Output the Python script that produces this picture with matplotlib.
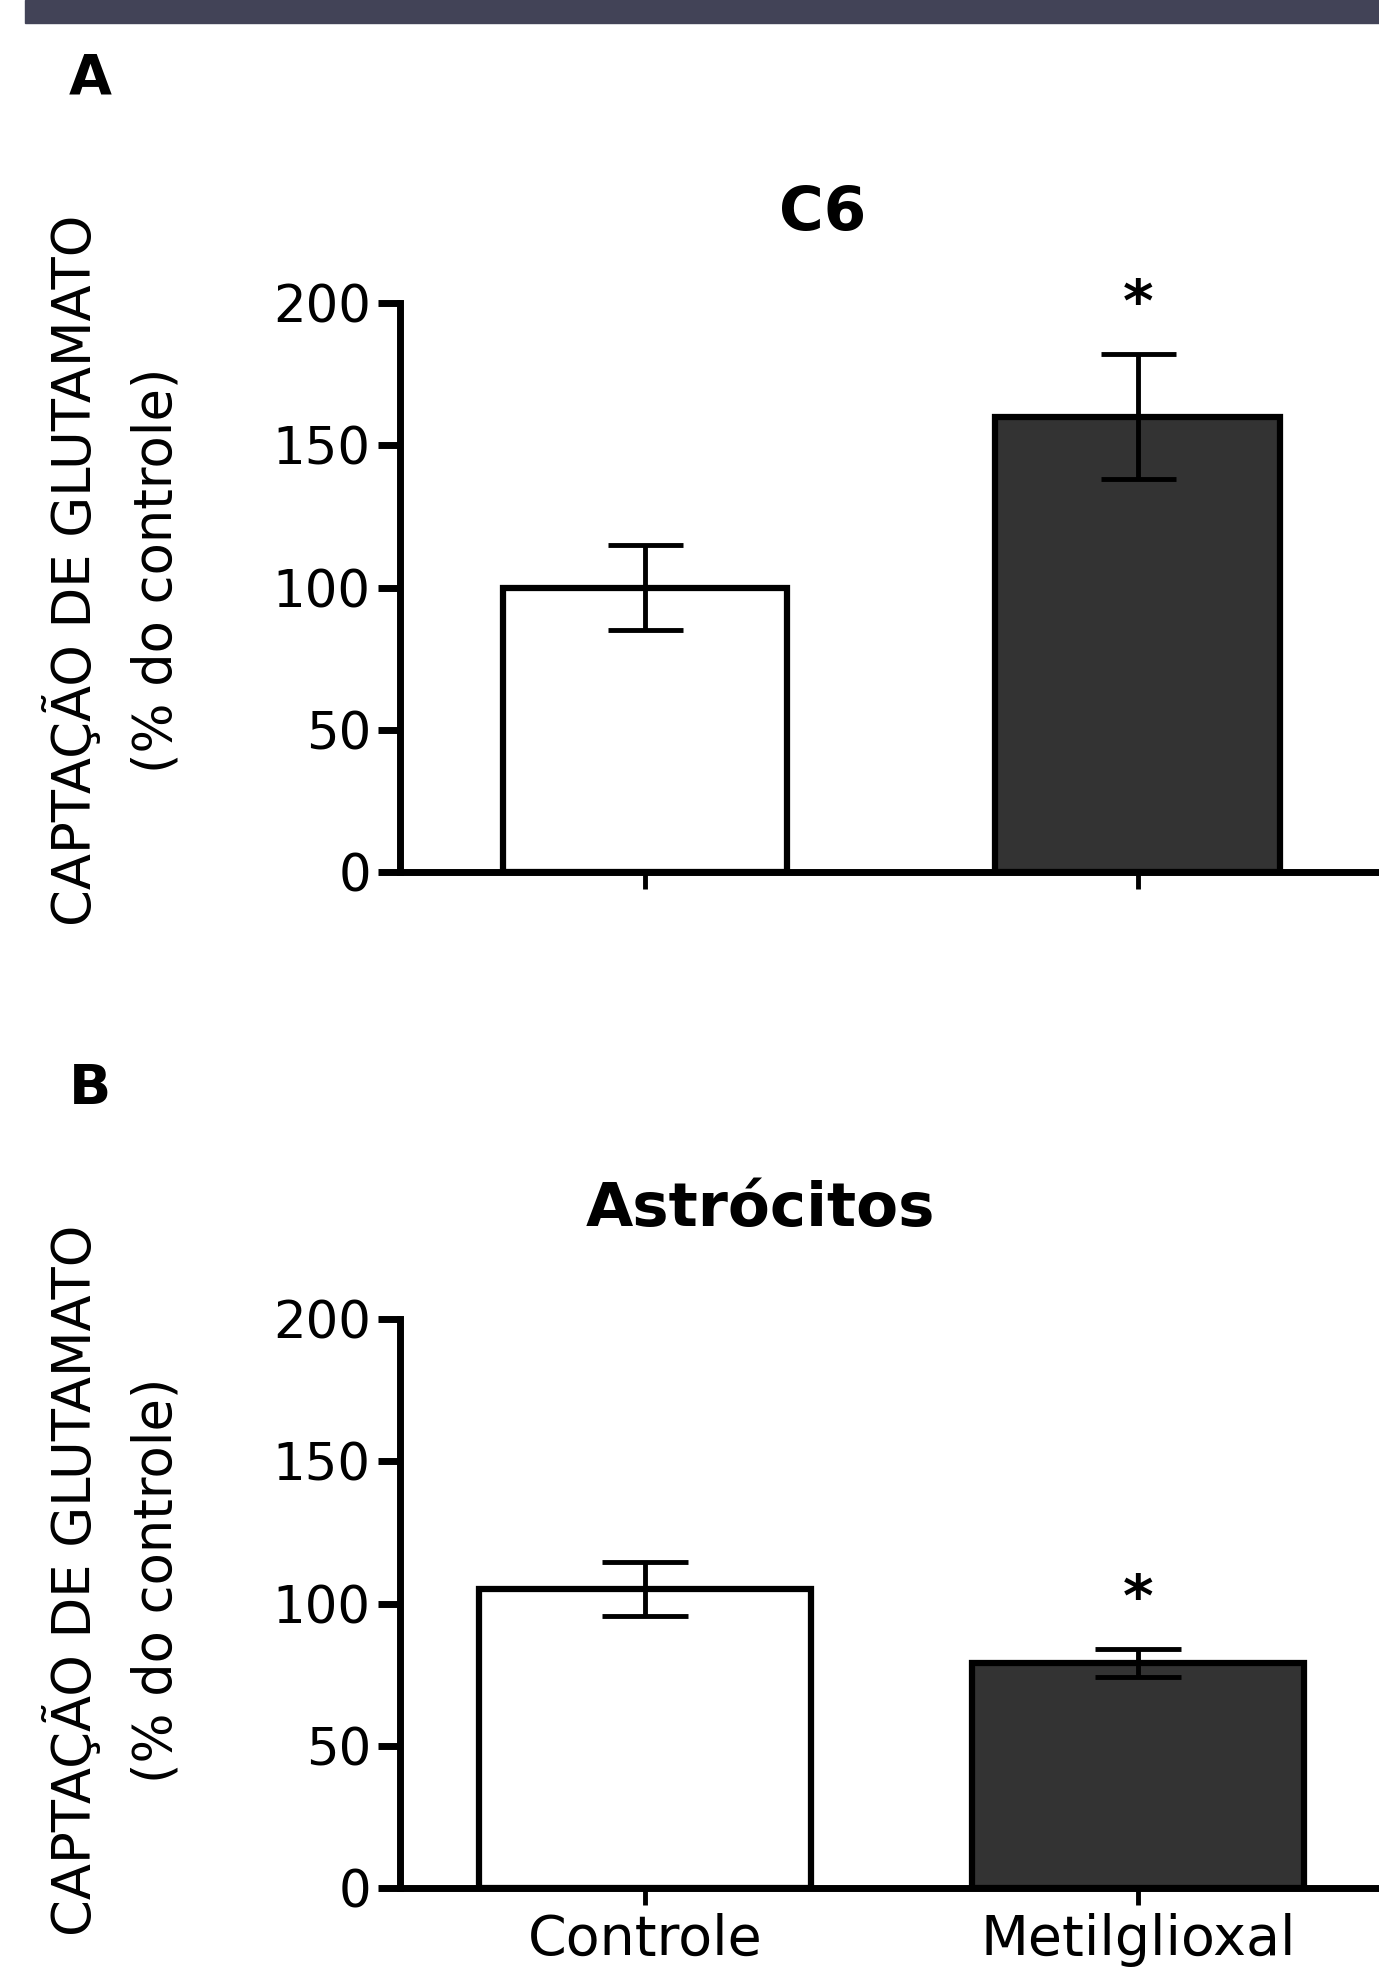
import matplotlib
matplotlib.use("Agg")
import matplotlib.pyplot as plt
from matplotlib.patches import Rectangle
import numpy as np

plt.rcParams['font.family'] = ['DejaVu Sans']

categories = ['Controle', 'Metilglioxal']
c6_mean = [100, 160]
c6_sem = [15, 22]
astro_mean = [105, 79]
astro_sem = [9.5, 5]
signif = [False, True]
bar_colors = ['white', '#333333']
yticks = [0, 50, 100, 150, 200]

W, H = 1379, 1971
fig = plt.figure(figsize=(W / 100, H / 100), dpi=100)

# dark strip at top of the slide
fig.patches.append(Rectangle((25 / W, 1 - 23 / H), 1, 23 / H, transform=fig.transFigure,
                             color='#424357', zorder=0))


def panel(bottom_px, top_px, means, sems, width, capsize, show_labels):
    ax = fig.add_axes([400 / W, 1 - bottom_px / H, 1 - 400 / W, (bottom_px - top_px) / H])
    x = np.arange(len(means))
    ax.bar(x, means, width=width, color=bar_colors, edgecolor='black', linewidth=4.5, zorder=2)
    ax.errorbar(x, means, yerr=sems, fmt='none', ecolor='black', elinewidth=3.5,
                capsize=capsize, capthick=3.5, zorder=3)
    for i, s in enumerate(signif):
        if s:
            ax.annotate('*', xy=(x[i], means[i] + sems[i]), xytext=(0, 24),
                        textcoords='offset points', ha='center', va='baseline',
                        fontsize=42, fontweight='bold', annotation_clip=False)
    ax.set_xlim(-0.497, 1.489)
    ax.set_ylim(0, 200)
    ax.set_yticks(yticks)
    ax.set_xticks(x)
    if show_labels:
        ax.set_xticklabels(categories, fontsize=40)
    else:
        ax.set_xticklabels([])
    ax.tick_params(axis='y', labelsize=37, length=16, width=5, pad=5)
    ax.tick_params(axis='x', length=12, width=3.5, pad=6)
    for sp in ['top', 'right']:
        ax.spines[sp].set_visible(False)
    for sp in ['left', 'bottom']:
        ax.spines[sp].set_linewidth(5)
    return ax


panel(872, 303, c6_mean, c6_sem, 0.578, 27, False)
panel(1888, 1319, astro_mean, astro_sem, 0.672, 31, True)

fig.text(69 / W, 1 - 94 / H, 'A', fontsize=40, fontweight='bold', ha='left', va='baseline')
fig.text(69 / W, 1 - 1104 / H, 'B', fontsize=40, fontweight='bold', ha='left', va='baseline')
fig.text(823 / W, 1 - 230 / H, 'C6', fontsize=44, fontweight='bold', ha='center', va='baseline')
fig.text(760 / W, 1 - 1226 / H, 'Astrócitos', fontsize=44, fontweight='bold', ha='center', va='baseline')

for yc in [570, 1580]:
    fig.text(73 / W, 1 - yc / H, 'CAPTAÇÃO DE GLUTAMATO', fontsize=38, rotation=90,
             ha='center', va='center')
    fig.text(157 / W, 1 - yc / H, '(% do controle)', fontsize=38, rotation=90,
             ha='center', va='center')

fig.savefig('out.png', dpi=100)
